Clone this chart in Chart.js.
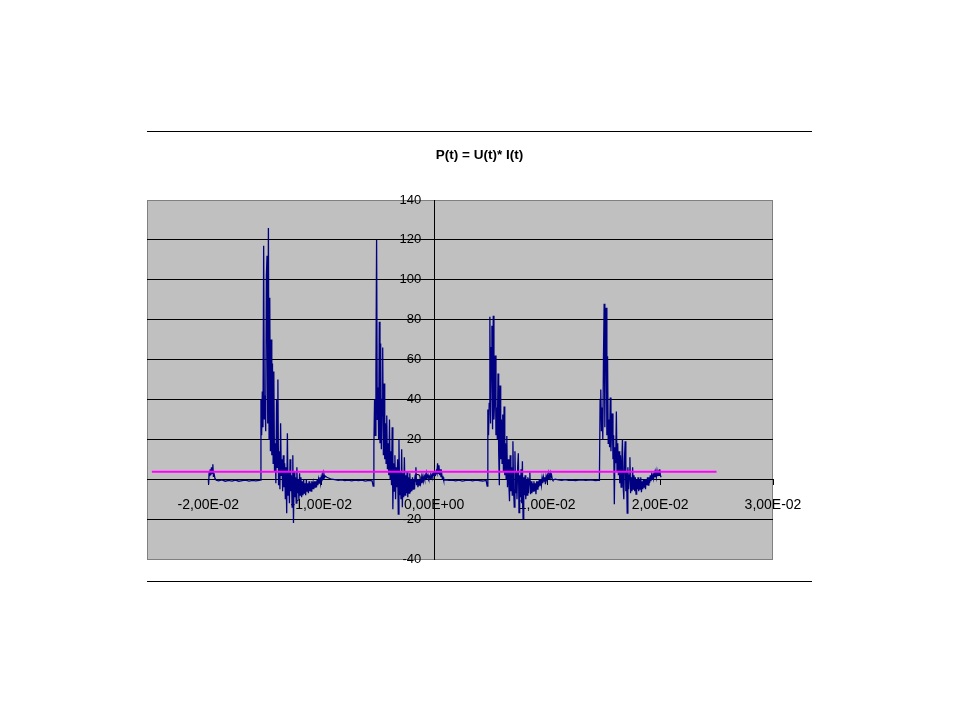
<!DOCTYPE html>
<html>
<head>
<meta charset="utf-8">
<title>P(t) = U(t)* I(t)</title>
<script src="https://cdn.jsdelivr.net/npm/chart.js@4.4.1/dist/chart.umd.min.js"></script>
<style>
  html, body { margin: 0; padding: 0; background: #fff; }
  canvas { display: block; }
</style>
</head>
<body>
<canvas id="powerChart" width="960" height="720"></canvas>
<script>
// P(t) = U(t)* I(t) - Excel style scatter with lines

const TITLE = 'P(t) = U(t)* I(t)';

// x axis (seconds) and y axis (W)
const X_TICKS = [-0.02, -0.01, 0, 0.01, 0.02, 0.03];
const X_MIN = -0.02543;
const X_MAX = 0.03;
const Y_MIN = -40;
const Y_MAX = 140;
const Y_STEP = 20;

// samples inside each burst are 0.06 ms apart
const SAMPLE_MS = 0.06;
const BURST_START_MS = [-15.4, -5.4, 4.69, 14.63];

const BURST_1 = [-0.5, 40, 22, 44, 26, 117, 30, 42, 24, 102, 112, 28, 126, 20, 91, 14, 70, 12, 58, 8,
  54, 4, 18, -2, 40, 6, 50, -3, 14, -5, 28, 2, 10, -6, 12, -4, 8, -10, 6, -17,
  23, -8, 4, -12, 10, -6, 2, -14, 12, -22, 4, -9, 1, -12, 6, -7, 0, -10, 3, -8,
  1, -9, -1, -8, 0, -7, -2, -8, 0, -6, -2, -7, -1, -6, -2, -6, -1, -5, -2, -5,
  -1, -4, -1, -4, 0, -3, 0, -2, 1, -2, 1, -1, 2, 0, 2.5, 1, 1.5];

const BURST_2 = [-3.5, 17, 40, 22, 52, 120, 30, 46, 20, 79, 18, 68, 15, 40, 66, 12, 48, 10, 28, 8,
  32, 5, 18, 2, 30, 0, 14, -3, 26, -15, 8, -6, 12, -10, 6, -4, 10, -17.5, 20, -8,
  4, -10, 15, -14, 3, -9, 11, -8, 2, -7, 4, -9, 1, -7, 3, -6.5, 0, -6, 1, -5,
  0, -5, 2, 6, -3, 0, -4, 0, -3, 0, -2, 1, -2, 1, -1, 1.5, 0, 2, 0.5, 2.5,
  1, 2, 0.5, 1.5, 0.5, 2, 1, 2.5, 1.5, 3, 2, 3.5, 2.5, 4, 3, 8, 3, 7, 2, 5,
  1, 3, 0.5, 1, -0.5];

const BURST_3 = [-3.5, 35, 22, 38, 81.5, 28, 66, 77, 25, 82, 30, 40, 62, 22, 36, 20, 53, 14, -3, 47,
  10, 30, 8, 32.5, 4, 36.5, 2, 18, 0, 21.7, -4, 10, -2, -11, 12, -6, 6, -8, 19, -5,
  -14, 14, -7, 4, -10, 6, 13, -16.7, 2, -9, 5, -12, 9, -19.7, 1, -8, 2, -10, 0, -8,
  1, -7, 0, 3.5, -7.5, -1, -7, -2, -6, -1, -6, -2, -7.5, -1, -5, -1, -4, 0, -3, 0,
  -3, 0.5, -2, 1, -1, 1, -2.5, 1.5, 0, 2, 0.5, 2.5, 1, 3, 1, 2, 0, -0.5];

const BURST_4 = [-0.5, 40, 45, 24, 36, 20, 61, 88, 26, 76, 86, 22, 61.7, 18, 30, 16, 41, 14, 26, 33,
  10, 22, -12.5, 16, 8, 34, 4, 18, 2, 14, -2, 12, -4, 8, 20, -3, -10, 10, 19, -6,
  4, -17, 6, -5, 2, 11, -7, 1, -6, 6, -5, 2, -6, 1, -7.5, 0, -5, 1, -6, 0,
  -5, 1, -6.5, -1, -5, 0, -4, 0, -5, 0, -3, 1, -3, 1, -2, 2, -1, 2, 0, 3,
  0.5, 3, 1, 3.5, 1, 4, 1.5, 3.5, 2, 5, 2, 1];

// quiet stretches between the bursts (time in ms, power in W)
const BASE_A_T = [-20.0, -19.97, -19.93, -19.88, -19.83, -19.78, -19.72, -19.66, -19.6, -19.55, -19.5, -19.42, -19.3,
  -19.1, -18.8, -18.5, -18.2, -17.9, -17.6, -17.3, -17.0, -16.7, -16.4, -16.1, -15.8, -15.5];
const BASE_A_P = [-0.5, -2.5, 3.5, 1.5, 5, 2, 6, 3, 7.5, 1.5, 3, 0.5, -0.5,
  -0.8, -0.3, -1, -0.6, -0.9, -0.4, -1, -0.7, -0.5, -0.9, -0.6, -0.8, -0.6];

const BASE_B_T = [-9.5, -9.3, -9.1, -8.8, -8.5, -8.2, -7.9, -7.6, -7.3, -7.0, -6.7, -6.4, -6.1, -5.8, -5.5];
const BASE_B_P = [1, 0.5, 0, -0.2, -0.5, -0.3, -0.7, -0.4, -0.8, -0.5, -0.7, -0.4, -0.9, -0.6, -0.8];

const BASE_C_T = [1.0, 1.3, 1.6, 1.9, 2.2, 2.5, 2.8, 3.1, 3.4, 3.7, 4.0, 4.3, 4.6];
const BASE_C_P = [-0.3, -0.6, -0.4, -0.8, -0.5, -0.9, -0.6, -0.4, -0.8, -0.5, -0.7, -0.9, -0.6];

const BASE_D_T = [10.7, 11.0, 11.3, 11.6, 11.9, 12.2, 12.5, 12.8, 13.1, 13.4, 13.7, 14.0, 14.3, 14.55];
const BASE_D_P = [0, -0.3, -0.5, -0.2, -0.6, -0.4, -0.7, -0.5, -0.3, -0.6, -0.4, -0.5, -0.7, -0.4];

// mean power line
const MEAN_T = [-0.025, 0.025];
const MEAN_P = [3.7, 3.7];

const FONT = '"Liberation Sans", Arial, sans-serif';

function excelSci(v) {
  const parts = Number(v).toExponential(2).split('e');
  const sign = parts[1][0] === '-' ? '-' : '+';
  const exp = parts[1].replace(/[+-]/, '').padStart(2, '0');
  return parts[0].replace('.', ',') + 'E' + sign + exp;
}

const trace = [];
function addStretch(times, values) {
  times.forEach((t, i) => trace.push({ x: t / 1000, y: values[i] }));
}
function addBurst(startMs, values) {
  values.forEach((v, i) => trace.push({ x: (startMs + i * SAMPLE_MS) / 1000, y: v }));
}

addStretch(BASE_A_T, BASE_A_P);
addBurst(BURST_START_MS[0], BURST_1);
addStretch(BASE_B_T, BASE_B_P);
addBurst(BURST_START_MS[1], BURST_2);
addStretch(BASE_C_T, BASE_C_P);
addBurst(BURST_START_MS[2], BURST_3);
addStretch(BASE_D_T, BASE_D_P);
addBurst(BURST_START_MS[3], BURST_4);

const meanLine = MEAN_T.map((t, i) => ({ x: t, y: MEAN_P[i] }));

// grey plot area, frame lines and the title, the way Excel paints them
const excelFrame = {
  id: 'excelFrame',
  beforeDraw(chart) {
    const { ctx, chartArea: a } = chart;
    ctx.save();
    ctx.fillStyle = '#c0c0c0';
    ctx.fillRect(a.left, a.top, a.right - a.left, a.bottom - a.top);
    ctx.strokeStyle = '#808080';
    ctx.lineWidth = 1;
    ctx.strokeRect(a.left + 0.5, a.top + 0.5, a.right - a.left - 1, a.bottom - a.top);
    ctx.fillStyle = '#000';
    ctx.fillRect(147, 131, 665, 1);
    ctx.fillRect(147, 581, 665, 1);
    ctx.font = 'bold 13.5px ' + FONT;
    ctx.textAlign = 'center';
    ctx.textBaseline = 'middle';
    ctx.fillText(TITLE, 479.5, 155.5);
    ctx.restore();
  }
};

new Chart(document.getElementById('powerChart'), {
  type: 'line',
  data: {
    datasets: [
      {
        label: 'mean',
        data: meanLine,
        borderColor: '#ff00ff',
        borderWidth: 2,
        pointRadius: 0,
        order: 0
      },
      {
        label: 'P(t)',
        data: trace,
        borderColor: '#000080',
        borderWidth: 1.3,
        pointRadius: 0,
        tension: 0,
        order: 1
      }
    ]
  },
  options: {
    responsive: false,
    animation: false,
    devicePixelRatio: 1,
    layout: { padding: { left: 147, top: 200, right: 187, bottom: 161 } },
    plugins: {
      legend: { display: false },
      title: { display: false },
      tooltip: { enabled: false }
    },
    scales: {
      x: {
        type: 'linear',
        position: { y: 0 },
        min: X_MIN,
        max: X_MAX,
        afterFit: (s) => { s.height = 0; },
        afterBuildTicks: (s) => { s.ticks = X_TICKS.map(v => ({ value: v })); },
        grid: { display: true, drawOnChartArea: false, drawTicks: true, tickLength: 5, color: '#000' },
        border: { display: true, color: '#000', width: 1 },
        ticks: {
          autoSkip: false,
          maxRotation: 0,
          padding: 13,
          color: '#000',
          font: { family: FONT, size: 14 },
          callback: (v) => excelSci(v)
        }
      },
      y: {
        type: 'linear',
        position: { x: 0 },
        min: Y_MIN,
        max: Y_MAX,
        afterFit: (s) => { s.width = 0; },
        ticks: { stepSize: Y_STEP, display: false },
        grid: {
          tickLength: 5,
          color: (c) => (c.tick && (c.tick.value === Y_MAX || c.tick.value === Y_MIN)) ? 'rgba(0,0,0,0)' : '#000'
        },
        border: { display: true, color: '#000', width: 1 }
      },
      yLabels: {
        type: 'linear',
        axis: 'y',
        position: { x: -0.00115 },
        min: Y_MIN,
        max: Y_MAX,
        afterFit: (s) => { s.width = 0; },
        grid: { display: false, drawTicks: false },
        border: { display: false },
        ticks: {
          stepSize: Y_STEP,
          padding: 0,
          color: '#000',
          font: { family: FONT, size: 13 }
        }
      }
    }
  },
  plugins: [excelFrame]
});
</script>
</body>
</html>
